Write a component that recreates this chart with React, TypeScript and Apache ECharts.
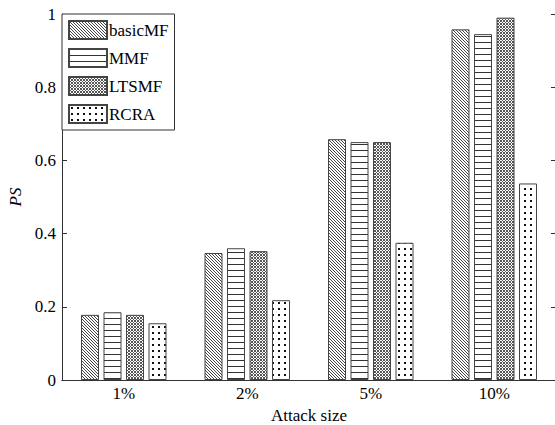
import React, { useEffect, useRef } from "react";
import * as echarts from "echarts";

const categories = ["1%", "2%", "5%", "10%"];
const seriesNames = ["basicMF", "MMF", "LTSMF", "RCRA"];
const basicMF = [0.178, 0.347, 0.658, 0.958];
const MMF = [0.185, 0.36, 0.65, 0.945];
const LTSMF = [0.178, 0.352, 0.65, 0.99];
const RCRA = [0.155, 0.218, 0.375, 0.537];
const yTicks = [0, 0.2, 0.4, 0.6, 0.8, 1];

function makePattern(kind: string) {
  const c = document.createElement("canvas");
  const n = 6;
  c.width = n;
  c.height = n;
  const ctx = c.getContext("2d")!;
  ctx.fillStyle = "#fff";
  ctx.fillRect(0, 0, n, n);
  if (kind === "diag") {
    ctx.fillStyle = "#444";
    for (let i = 0; i < n; i++) ctx.fillRect(i, i, 1, 1);
    for (let i = 0; i < n; i++) ctx.fillRect((i + 3) % n, i, 1, 1);
  } else if (kind === "horiz") {
    ctx.fillStyle = "#333";
    ctx.fillRect(0, 0, n, 1);
  } else if (kind === "cross") {
    ctx.fillStyle = "#555";
    for (let i = 0; i < n; i++) {
      ctx.fillRect(i, i, 1, 1);
      ctx.fillRect(n - 1 - i, i, 1, 1);
      ctx.fillRect((i + 3) % n, i, 1, 1);
      ctx.fillRect((n - 1 - i + 3) % n, i, 1, 1);
    }
  } else if (kind === "dots") {
    ctx.fillStyle = "#111";
    ctx.fillRect(2, 2, 2, 2);
  }
  return { image: c, repeat: "repeat", imageWidth: n, imageHeight: n } as any;
}

export default function App() {
  const ref = useRef<HTMLDivElement>(null);
  useEffect(() => {
    const chart = echarts.init(ref.current!, null, { renderer: "svg" });
    const kinds = ["diag", "horiz", "cross", "dots"];
    const values = [basicMF, MMF, LTSMF, RCRA];
    const font = "'Liberation Serif', 'Times New Roman', serif";
    const axisColor = "#333";
    chart.setOption({
      animation: false,
      backgroundColor: "#fff",
      grid: { left: 62, right: -1, top: 14, bottom: 45, outerBoundsMode: "none", containLabel: false },
      legend: {
        orient: "vertical",
        left: 62,
        top: 14,
        padding: [6, 6, 6, 6],
        itemGap: 8,
        itemWidth: 38,
        itemHeight: 18,
        icon: "rect",
        borderColor: "#333",
        borderWidth: 1,
        backgroundColor: "#fff",
        textStyle: { fontFamily: font, fontSize: 17, color: "#000", padding: [0, 0, 0, -3] },
        data: seriesNames,
      },
      xAxis: [
        {
          type: "category",
          data: categories,
          name: "Attack size",
          nameLocation: "middle",
          nameGap: 27,
          nameTextStyle: { fontFamily: font, fontSize: 17, color: "#000" },
          axisLine: { lineStyle: { color: axisColor } },
          axisTick: { inside: true, alignWithLabel: true, length: 4, lineStyle: { color: axisColor } },
          axisLabel: { fontFamily: font, fontSize: 17, color: "#000", margin: 5 },
        },
        {
          type: "category",
          data: categories,
          position: "top",
          axisLine: { lineStyle: { color: axisColor } },
          axisTick: { inside: true, alignWithLabel: true, length: 4, lineStyle: { color: axisColor } },
          axisLabel: { show: false },
        },
      ],
      yAxis: [
        {
          type: "value",
          min: 0,
          max: 1,
          interval: 0.2,
          name: "PS",
          nameLocation: "middle",
          nameGap: 36,
          nameTextStyle: { fontFamily: font, fontSize: 17, fontStyle: "italic", color: "#000" },
          axisLine: { show: true, lineStyle: { color: axisColor } },
          axisTick: { show: true, inside: true, length: 5, lineStyle: { color: axisColor } },
          axisLabel: {
            fontFamily: font,
            fontSize: 17,
            color: "#000",
            margin: 6,
            formatter: (v: number) => (yTicks.some((t) => Math.abs(t - v) < 1e-9) ? String(Math.round(v * 10) / 10) : ""),
          },
          splitLine: { show: false },
        },
        {
          type: "value",
          min: 0,
          max: 1,
          interval: 0.2,
          position: "right",
          axisLine: { show: true, lineStyle: { color: axisColor } },
          axisTick: { show: true, inside: true, length: 5, lineStyle: { color: axisColor } },
          axisLabel: { show: false },
          splitLine: { show: false },
        },
      ],
      series: seriesNames.map((name, i) => ({
        name,
        type: "bar",
        data: values[i],
        barWidth: 18,
        barGap: "25%",
        itemStyle: {
          color: makePattern(kinds[i]),
          borderColor: "#444",
          borderWidth: 1,
        },
      })),
    });
    return () => chart.dispose();
  }, []);
  return <div ref={ref} style={{ width: 555, height: 425, position: "absolute", left: 0, top: 0 }} />;
}
